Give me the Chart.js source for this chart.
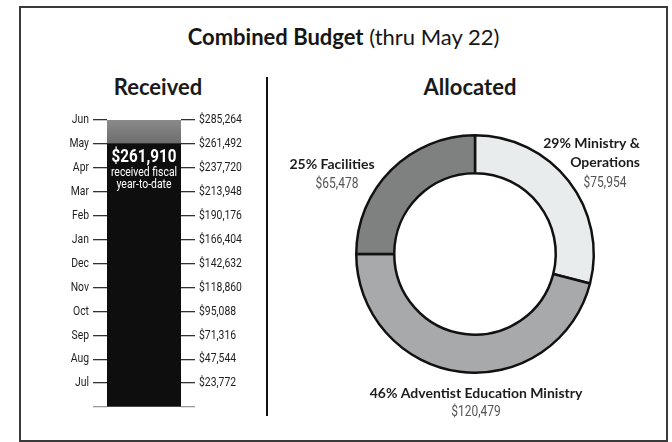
<!DOCTYPE html>
<html>
<head>
<meta charset="utf-8">
<title>Combined Budget</title>
<script src="https://cdn.jsdelivr.net/npm/chart.js@4.4.1/dist/chart.umd.min.js"></script>
<style>
    body { margin: 0; background: #fff; font-family: 'Lato', 'Open Sans', sans-serif; }
    .page { position: relative; width: 672px; height: 442px; overflow: hidden; }
    .frame { position: absolute; left: 19px; top: 6px; width: 649px; height: 436px; box-sizing: border-box; border: 2px solid #3a3a3a; }
    .title { position: absolute; left: 20px; width: 647px; top: 23px; text-align: center; font-size: 22px; color: #161616; }
    .title b { font-weight: 700; }
    .panel-head { position: absolute; top: 73px; width: 200px; text-align: center; font-weight: 700; font-size: 22px; color: #1a1a1a; }
    .divider { position: absolute; left: 266px; top: 77px; width: 2px; height: 339px; background: #111; }
    #receivedChart { position: absolute; left: 30px; top: 110px; }
    #allocatedChart { position: absolute; left: 280px; top: 100px; }
</style>
</head>
<body>
<div class="page">
    <div class="frame"></div>
    <div class="title"><b>Combined Budget</b> (thru May 22)</div>
    <div class="panel-head" style="left: 58px;">Received</div>
    <div class="panel-head" style="left: 370px;">Allocated</div>
    <div class="divider"></div>
    <canvas id="receivedChart" width="230" height="310"></canvas>
    <canvas id="allocatedChart" width="370" height="325"></canvas>
</div>

<script>
// Received (thermometer) data
const monthLabels = ['', 'Jul', 'Aug', 'Sep', 'Oct', 'Nov', 'Dec', 'Jan', 'Feb', 'Mar', 'Apr', 'May', 'Jun'];
const dollarTicks = [0, 23772, 47544, 71316, 95088, 118860, 142632, 166404, 190176, 213948, 237720, 261492, 285264];
const receivedToDate = 261910;
const fiscalGoal = 285264;

// Allocated (doughnut) data
const allocNames = [['Ministry &', 'Operations'], ['Adventist Education Ministry'], ['Facilities']];
const allocValues = [75954, 120479, 65478];
const allocColors = ['#e9ecec', '#a8a9ab', '#7e8180'];

// no condensed face installed, so narrow text is squeezed by hand
const narrowFont = "'Roboto', 'Liberation Sans', sans-serif";
const headFont = "'Lato', 'Open Sans', sans-serif";
const squeeze = 0.8;

document.addEventListener('DOMContentLoaded', function() {
    initializeReceivedChart();
    initializeAllocatedChart();
});

function formatMoney(v) {
    return '$' + v.toLocaleString('en-US');
}

// Draw horizontally condensed text
function narrowText(ctx, text, x, y, align) {
    ctx.save();
    ctx.translate(x, y);
    ctx.scale(squeeze, 1);
    ctx.textAlign = align;
    ctx.textBaseline = 'middle';
    ctx.fillText(text, 0, 0);
    ctx.restore();
}

// Text inside the bar + axis labels
const barLabelPlugin = {
    id: 'barLabel',
    afterDraw(chart) {
        const ctx = chart.ctx;
        const area = chart.chartArea;
        const bar = chart.getDatasetMeta(0).data[0];

        ctx.save();
        ctx.fillStyle = '#1e1e1e';
        ctx.font = '13px ' + narrowFont;
        chart.scales.y.ticks.forEach((t, i) => {
            const y = chart.scales.y.getPixelForValue(t.value);
            narrowText(ctx, monthLabels[i], area.left - 18, y, 'right');
            if (i > 0) narrowText(ctx, formatMoney(dollarTicks[i]), area.right + 18, y, 'left');
        });

        ctx.fillStyle = '#fff';
        ctx.font = 'bold 19px ' + narrowFont;
        narrowText(ctx, formatMoney(receivedToDate), bar.x, bar.y + 14, 'center');
        ctx.font = '13px ' + narrowFont;
        narrowText(ctx, 'received fiscal', bar.x, bar.y + 29, 'center');
        narrowText(ctx, 'year-to-date', bar.x, bar.y + 41, 'center');
        ctx.restore();
    }
};

function tickAxis(position, width) {
    return {
        position: position,
        min: 0,
        max: fiscalGoal,
        stacked: true,
        afterBuildTicks: function(scale) {
            scale.ticks = dollarTicks.map(v => ({ value: v }));
        },
        afterFit: function(scale) {
            scale.width = width;
        },
        ticks: { display: false },
        grid: {
            drawOnChartArea: false,
            tickLength: 14,
            lineWidth: 1.3,
            color: ctx => ctx.index === 0 ? '#9a9a9a' : '#333'
        },
        border: { display: false }
    };
}

// Initialize received chart
function initializeReceivedChart() {
    const ctx = document.getElementById('receivedChart');

    new Chart(ctx, {
        type: 'bar',
        data: {
            labels: ['Received'],
            datasets: [{
                label: 'Received',
                data: [receivedToDate],
                backgroundColor: '#0e0e0e',
                yAxisID: 'y'
            }, {
                label: 'Remaining',
                data: [fiscalGoal - receivedToDate],
                backgroundColor: function(context) {
                    const area = context.chart.chartArea;
                    if (!area) return '#7d7d7d';
                    const g = context.chart.ctx.createLinearGradient(0, area.top, 0, area.top + 24);
                    g.addColorStop(0, '#8a8a8a');
                    g.addColorStop(1, '#6c6c6c');
                    return g;
                },
                yAxisID: 'y'
            }]
        },
        options: {
            responsive: false,
            animation: false,
            layout: { padding: { top: 10, bottom: 13 } },
            datasets: { bar: { barPercentage: 1, categoryPercentage: 1 } },
            plugins: { legend: { display: false }, tooltip: { enabled: false } },
            scales: {
                x: { display: false, stacked: true },
                y: tickAxis('left', 77),
                y2: tickAxis('right', 79)
            }
        },
        plugins: [barLabelPlugin]
    });
}

// Labels around the doughnut
const doughnutLabelPlugin = {
    id: 'doughnutLabels',
    afterDraw(chart) {
        const arc = chart.getDatasetMeta(0).data[0];
        const cx = arc.x, cy = arc.y;
        const total = allocValues.reduce((a, b) => a + b, 0);
        const pct = allocValues.map(v => Math.round(v / total * 100) + '% ');
        const ctx = chart.ctx;
        ctx.save();
        ctx.textBaseline = 'middle';

        function bold(text, x, y, align) {
            ctx.font = 'bold 14px ' + headFont;
            ctx.fillStyle = '#1c1c1c';
            ctx.textAlign = align;
            ctx.fillText(text, x, y);
        }
        function money(v, x, y) {
            ctx.font = '15px ' + narrowFont;
            ctx.fillStyle = '#555';
            narrowText(ctx, formatMoney(v), x, y, 'center');
        }

        // Ministry & Operations
        bold(pct[0] + allocNames[0][0], cx + 165, cy - 111, 'right');
        bold(allocNames[0][1], cx + 165, cy - 92, 'right');
        money(allocValues[0], cx + 130, cy - 71);

        // Adventist Education Ministry
        bold(pct[1] + allocNames[1][0], cx + 1, cy + 139, 'center');
        money(allocValues[1], cx + 1, cy + 158);

        // Facilities
        bold(pct[2] + allocNames[2][0], cx - 143, cy - 90, 'center');
        money(allocValues[2], cx - 138, cy - 70);

        ctx.restore();
    }
};

// Initialize allocated chart
function initializeAllocatedChart() {
    const ctx = document.getElementById('allocatedChart');

    new Chart(ctx, {
        type: 'doughnut',
        data: {
            labels: allocNames.map(n => n.join(' ')),
            datasets: [{
                data: allocValues,
                backgroundColor: allocColors,
                borderColor: '#111',
                borderWidth: 2.5
            }]
        },
        options: {
            responsive: false,
            animation: false,
            cutout: '68%',
            layout: { padding: { left: 75, right: 55, top: 34, bottom: 51 } },
            plugins: { legend: { display: false }, tooltip: { enabled: false } }
        },
        plugins: [doughnutLabelPlugin]
    });
}
</script>
</body>
</html>
